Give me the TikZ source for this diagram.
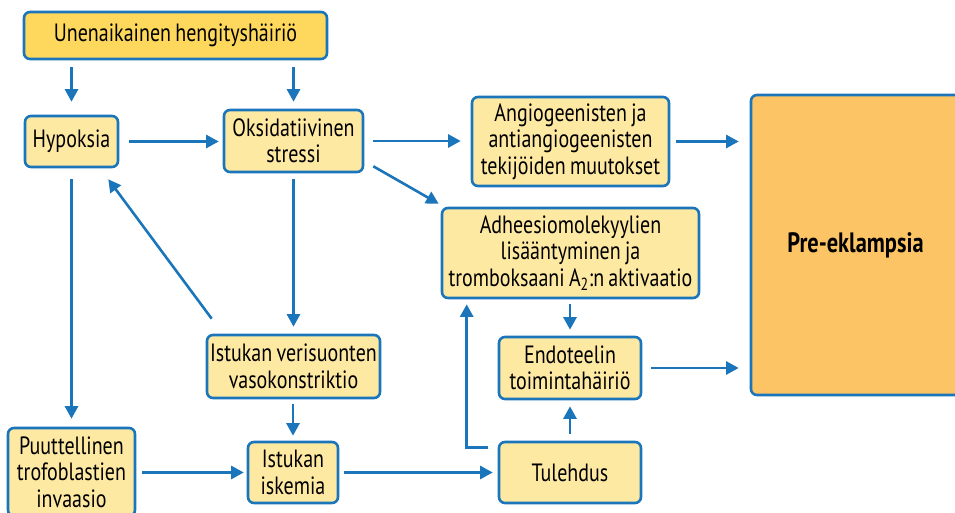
\documentclass[tikz,border=0pt]{standalone}
\usepackage{fontspec}
\setmainfont[FakeStretch=0.80,WordSpace=0.8]{PT Sans}
\usetikzlibrary{arrows.meta,calc}
\definecolor{bblue}{HTML}{1B75BB}
\definecolor{lightbox}{HTML}{FEE9A3}
\definecolor{topbox}{HTML}{FDD85C}
\definecolor{prebox}{HTML}{FCC464}
\tikzset{
  box/.style={draw=bblue, line width=2.6pt, fill=lightbox, rounded corners=6pt,
    align=center, inner sep=0pt, font=\fontsize{25}{26.5}\selectfont},
  arr/.style={draw=bblue, line width=2.6pt, -{Triangle[length=12.5pt,width=13pt]}},
}
\begin{document}
\begin{tikzpicture}[x=1pt,y=-1pt]
\useasboundingbox (0,0) rectangle (955,513);
\node[box, fill=topbox, minimum width=303, minimum height=47] (unen) at (175.5,35.5) {Unenaikainen hengityshäiriö};
\node[box, minimum width=93, minimum height=51] (hyp) at (71.5,141.5) {Hypoksia};
\node[box, minimum width=139, minimum height=62] (oks) at (293.5,141) {Oksidatiivinen\\stressi};
\node[box, minimum width=197, minimum height=89] (ang) at (570.5,141.5) {Angiogeenisten ja\\antiangiogeenisten\\tekijöiden muutokset};
\node[box, minimum width=257, minimum height=90] (adh) at (570.5,253) {Adheesiomolekyylien\\lisääntyminen ja\\tromboksaani A\textsubscript{2}:n aktivaatio};
\node[box, minimum width=142, minimum height=62] (endo) at (570,368) {Endoteelin\\toimintahäiriö};
\node[box, minimum width=142, minimum height=61] (tul) at (570,472.5) {Tulehdus};
\node[box, minimum width=173, minimum height=63] (ver) at (293.5,366.5) {Istukan verisuonten\\vasokonstriktio};
\node[box, minimum width=90, minimum height=61] (isk) at (293,472.5) {Istukan\\iskemia};
\node[box, minimum width=127, minimum height=88] (puu) at (71.5,472) {Puuttellinen\\trofoblastien\\invaasio};
\node[box, fill=prebox, minimum width=212, minimum height=300, font=\fontsize{28}{30}\selectfont\bfseries] (pre) at (857,245) {\hspace*{-3pt}Pre-eklampsia\hspace*{0pt}};
% connectors
\draw[arr, shorten <=7pt, shorten >=13pt] (unen.south -| hyp.north) -- (hyp.north);
\draw[arr, shorten <=7pt, shorten >=7pt] (unen.south -| oks.north) -- (oks.north);
\draw[arr, shorten <=10pt, shorten >=4pt] (hyp.east) -- (hyp.east -| oks.west);
\draw[arr, shorten <=9pt, shorten >=10pt] (oks.east) -- (oks.east -| ang.west);
\draw[arr, shorten <=6pt, shorten >=11pt] (ang.east) -- (ang.east -| pre.west);
\draw[arr] ([shift={(9,-7)}]oks.south east) -- ([shift={(-2,-3)}]adh.north west);
\draw[arr, shorten <=6pt, shorten >=7pt] (oks.south) -- (oks.south |- ver.north);
\draw[arr] ([shift={(6,-15)}]ver.north west) -- ([shift={(-11,11)}]hyp.south east);
\draw[arr, shorten <=11pt, shorten >=8pt] (hyp.south) -- (hyp.south |- puu.north);
\draw[arr, shorten <=5pt, shorten >=5pt] (ver.south -| isk.north) -- (isk.north);
\draw[arr, shorten <=6pt, shorten >=3pt] (puu.east |- isk.west) -- (isk.west);
\draw[arr, shorten <=5pt, shorten >=5pt] (isk.east) -- (tul.west);
\draw[arr] ([shift={(-10,7)}]tul.north west) -| ([shift={(26,5)}]adh.south west);
\draw[arr, shorten <=7pt, shorten >=6pt] (tul.north) -- (endo.south);
\draw[arr, shorten <=5pt, shorten >=6pt] (adh.south -| endo.north) -- (endo.north);
\draw[arr, shorten <=9pt, shorten >=11pt] (endo.east) -- (endo.east -| pre.west);
\end{tikzpicture}
\end{document}
